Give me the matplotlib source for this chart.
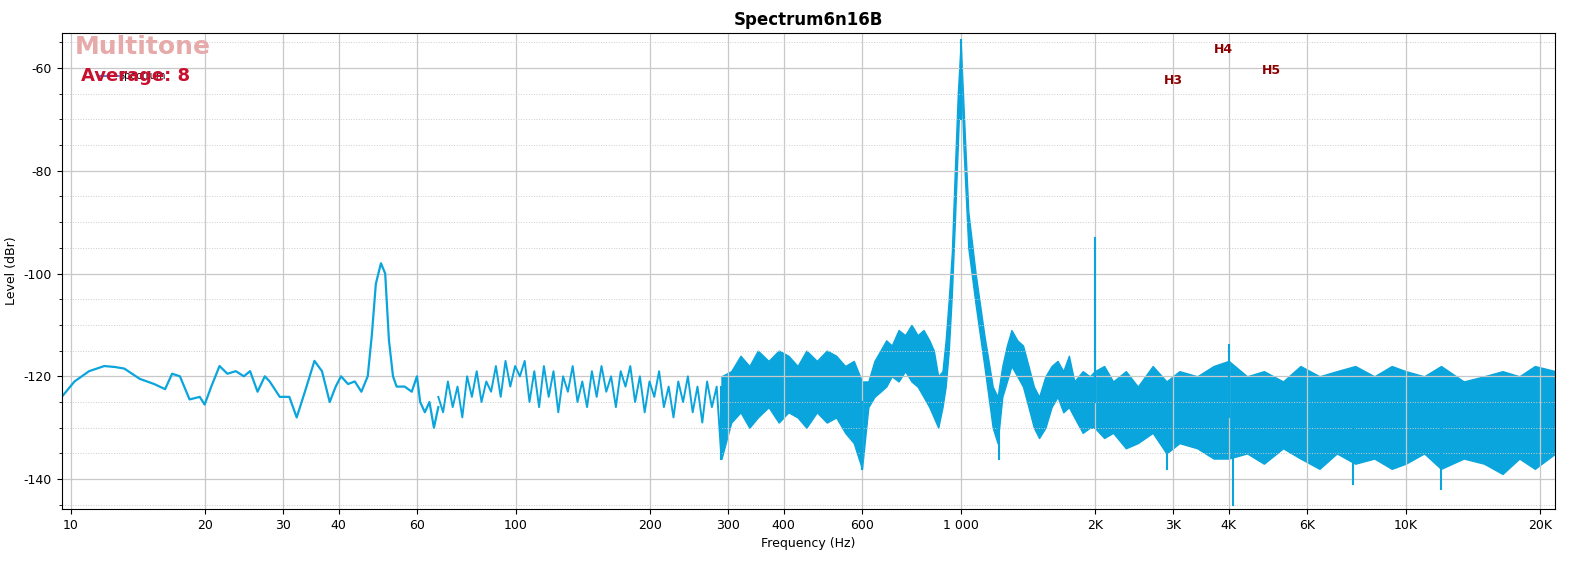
import numpy as np
import matplotlib
matplotlib.use("Agg")
import matplotlib.pyplot as plt
from matplotlib.ticker import FixedLocator, MultipleLocator

plt.rcParams['axes.unicode_minus'] = False
C = '#0aa5dc'
# low-frequency trace
f_low = [9.55,10.2,11.0,11.9,12.6,13.2,14.3,15.4,16.3,16.9,17.6,18.5,19.5,20,20.7,21.6,22.5,23.5,24.5,25.3,26.3,
         27.3,28,29.5,31,32.2,33.6,35.3,36.7,38.2,39.4,40.5,42,43.5,45,46.5,47.5,48.5,49.8,50.9,51.9,53,54,56.3,58.4,
         60,61,62.5,64,65.5,67]
l_low = [-124,-121,-119,-118,-118.2,-118.5,-120.5,-121.5,-122.5,-119.5,-120,-124.5,-124,-125.5,-122,-118,-119.5,-119,
         -120,-119,-123,-120,-121,-124,-124,-128,-123,-117,-119,-125,-122,-120,-121.5,-121,-123,-120,-112,-102,-98,-100,
         -113,-120,-122,-122,-123,-120,-125,-127,-125,-130,-126]
# 67-290 Hz zigzag
l_mid = [-124,-127,-121,-126,-122,-128,-120,-124,-119,-125,-121,-123,-118,-124,-117,-122,-118,-120,-117,-125,-119,-126,
         -118,-124,-119,-127,-120,-123,-118,-125,-121,-126,-119,-124,-118,-123,-120,-126,-119,-122,-118,-125,-120,-127,
         -121,-124,-119,-126,-122,-128,-121,-125,-120,-127,-122,-129,-121,-126,-122,-136]
f_mid = np.geomspace(67, 290, len(l_mid))
# dense region envelope (upper / lower edges of the noise band)
f_env = [290,305,320,335,350,370,390,410,430,450,475,500,525,550,575,600,620,640,660,680,700,725,750,775,800,825,850,
         870,890,910,925,940,955,970,985,1000,1015,1040,1080,1130,1180,1210,1240,1270,1300,1340,1380,1420,1460,1500,
         1550,1600,1650,1700,1750,1800,1880,1950,2000,2100,2200,2350,2500,2700,2900,3100,3400,3700,4000,4400,4800,
         5300,5800,6400,7000,7700,8500,9300,10000,11000,12000,13500,15000,16500,18000,19500,21700]
up_env = [-120,-119,-116,-118,-115,-117,-115,-116,-118,-115,-117,-115,-116,-118,-117,-121,-121,-117,-115,-113,-114,
          -111,-112,-110,-112,-111,-113,-115,-120,-119,-113,-105,-96,-80,-65,-55,-68,-88,-100,-112,-122,-124,-118,
          -114,-111,-113,-114,-118,-122,-124,-120,-118,-117,-119,-116,-121,-119,-120,-119,-118,-121,-119,-122,-118,
          -121,-119,-120,-118,-117,-120,-119,-121,-118,-120,-119,-118,-120,-118,-119,-120,-118,-121,-120,-119,-120,
          -118,-119]
lo_env = [-136,-129,-127,-130,-128,-126,-129,-127,-128,-130,-127,-129,-128,-131,-133,-138,-126,-124,-123,-122,-120,
          -121,-119,-121,-122,-124,-126,-128,-130,-126,-122,-115,-104,-90,-75,-60,-76,-95,-106,-118,-130,-133,-124,
          -121,-118,-120,-122,-126,-130,-132,-130,-126,-124,-127,-126,-128,-131,-130,-130,-132,-131,-134,-133,-131,
          -135,-133,-134,-136,-136,-135,-137,-134,-136,-138,-135,-137,-136,-138,-137,-135,-138,-136,-137,-139,-136,
          -138,-135]
# spikes
spike_f = [290, 600, 1000, 2000, 4000, 4100, 12000, 1220, 2900, 7600]
spike_top = [-122, -125, -54.5, -93, -114, -128, -128, -125, -125, -128]
spike_bot = [-136, -138, -70, -125, -128, -145, -142, -136, -138, -141]

xt = [10,20,30,40,60,100,200,300,400,600,1000,2000,3000,4000,6000,10000,20000]
xtl = ['10','20','30','40','60','100','200','300','400','600','1 000','2K','3K','4K','6K','10K','20K']

fig = plt.figure(figsize=(15.84, 5.68), dpi=100)
ax = fig.add_axes([0.039, 0.104, 0.943, 0.838])
ax.set_xscale('log')
ax.plot(f_low, l_low, color=C, lw=1.6)
ax.plot(f_mid, l_mid, color=C, lw=1.4)
ax.fill_between(f_env, lo_env, up_env, color=C, lw=1)
for f, a, b in zip(spike_f, spike_top, spike_bot):
    ax.plot([f, f], [a, b], color=C, lw=1.5)

ax.set_xlim(9.55, 21700)
ax.set_ylim(-145.8, -53.2)
ax.xaxis.set_major_locator(FixedLocator(xt))
ax.xaxis.set_minor_locator(FixedLocator([]))
ax.set_xticklabels(xtl, fontsize=9)
ax.yaxis.set_major_locator(MultipleLocator(20))
ax.yaxis.set_minor_locator(MultipleLocator(5))
ax.tick_params(axis='y', labelsize=9)
ax.grid(True, which='major', color='#c8c8c8', lw=0.9)
ax.grid(True, which='minor', axis='y', color='#cccccc', lw=0.7, ls=':')
ax.set_xlabel('Frequency (Hz)', fontsize=9)
ax.set_ylabel('Level (dBr)', fontsize=9)
ax.set_title('Spectrum6n16B', fontsize=12, fontweight='bold', pad=6)

ax.text(0.009, 0.97, 'Multitone', transform=ax.transAxes, color='#e6aaaa', fontsize=18,
        fontweight='bold', va='center')
ax.plot([0.025, 0.038], [0.91, 0.91], transform=ax.transAxes, color='#3366cc', lw=1.2)
ax.text(0.038, 0.91, 'Spectrum', transform=ax.transAxes, fontsize=7, va='center')
ax.text(0.013, 0.91, 'Average: 8', transform=ax.transAxes, color='#c8102e', fontsize=13,
        fontweight='bold', va='center')
for t, f, y in [('H3', 3000, -62.5), ('H4', 3900, -56.5), ('H5', 5000, -60.5)]:
    ax.text(f, y, t, color='#8b0000', fontsize=9, fontweight='bold', ha='center', va='center')

fig.savefig('out.png', dpi=100)
